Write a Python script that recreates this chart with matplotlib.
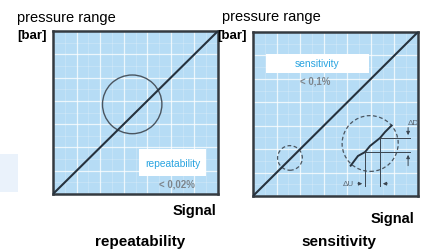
import matplotlib.pyplot as plt
import matplotlib.patches as mpatches
import numpy as np

#
# Diagram data (panel units, 0..1)
#

signal = [0.0, 1.0]                     # characteristic line, x
pressure = [0.0, 1.0]                   # characteristic line, y
grid_pos = [1/7, 2/7, 3/7, 4/7, 5/7, 6/7]

rep_circle = (0.48, 0.55, 0.18)         # repeatability loop
sens_small = (0.224, 0.232, 0.075)      # sensitivity, small dashed circle
sens_big = (0.71, 0.32, 0.17)           # sensitivity, zoomed dashed circle

step_x = [0.592, 0.636, 0.679, 0.709, 0.739, 0.770, 0.800, 0.840]
step_y = [0.185, 0.244, 0.268, 0.305, 0.329, 0.354, 0.390, 0.430]

panel_titles = ["repeatability", "sensitivity"]
panel_values = ["< 0,02%", "< 0,1%"]

W, H = 426, 251
bg = "#b6dcf5"
edge = "#343a40"
font = "Liberation Sans"


def fx(px):
    return px / W


def fy(py):
    return 1 - py / H


fig = plt.figure(figsize=(4.26, 2.51), dpi=100, facecolor="white")

# faint box on the left edge
fig.patches.append(mpatches.Rectangle((0, fy(193)), fx(18), fy(155) - fy(193),
                                      transform=fig.transFigure, facecolor="#eaf2fb",
                                      edgecolor="none"))


def panel(left, top, right, bottom):
    ax = fig.add_axes([fx(left), fy(bottom), fx(right - left), fy(top) - fy(bottom)])
    ax.set_xlim(0, 1)
    ax.set_ylim(0, 1)
    ax.set_facecolor(bg)
    ax.set_xticks([])
    ax.set_yticks([])
    for g in grid_pos:
        ax.axvline(g, color="white", lw=0.9, alpha=0.75, zorder=1)
        ax.axhline(g, color="white", lw=0.9, alpha=0.75, zorder=1)
    for g in grid_pos + [1.0]:
        ax.axvline(g - 1/14, color="white", lw=0.4, alpha=0.35, zorder=1)
        ax.axhline(g - 1/14, color="white", lw=0.4, alpha=0.35, zorder=1)
    for s in ax.spines.values():
        s.set_color(edge)
        s.set_linewidth(1.8)
    ax.plot(signal, pressure, color="#26323e", lw=1.5, zorder=3)
    return ax


#
# Left panel - repeatability
#

ax1 = panel(53, 32, 218, 195)
cx, cy, r = rep_circle
ax1.add_patch(mpatches.Circle((cx, cy), r, fill=False, edgecolor="#4a5560", lw=1.0, zorder=2))
ax1.add_patch(mpatches.Rectangle((0.52, 0.11), 0.41, 0.166, facecolor="white", edgecolor="none", zorder=4))
ax1.text(0.725, 0.19, panel_titles[0], color="#2aa4e0", fontsize=7.4, family=font,
         ha="center", va="center", zorder=5)
ax1.text(0.75, 0.065, panel_values[0], color="#7d858c", fontsize=7, family=font,
         fontweight="bold", ha="center", va="center", zorder=5)

#
# Right panel - sensitivity
#

ax2 = panel(253, 33, 418, 197)
for c in (sens_small, sens_big):
    ax2.add_patch(mpatches.Circle((c[0], c[1]), c[2], fill=False, edgecolor="#4a5560",
                                  lw=0.9, ls=(0, (3, 2)), zorder=2))
ax2.plot(step_x, step_y, color="#26323e", lw=1.4, zorder=3)
ax2.plot([step_x[5], 0.95], [step_y[5], step_y[5]], color="#3a4550", lw=0.7, zorder=3)
ax2.plot([step_x[2], 0.95], [step_y[2], step_y[2]], color="#3a4550", lw=0.7, zorder=3)
ax2.plot([step_x[5], step_x[5]], [step_y[5], 0.06], color="#3a4550", lw=0.7, zorder=3)
ax2.plot([step_x[2], step_x[2]], [step_y[2], 0.06], color="#3a4550", lw=0.7, zorder=3)
ax2.annotate("", xy=(0.94, step_y[5]), xytext=(0.94, step_y[5] + 0.08),
             arrowprops=dict(arrowstyle="-|>", color="#3a4550", lw=0.7, mutation_scale=5))
ax2.annotate("", xy=(0.94, step_y[2]), xytext=(0.94, step_y[2] - 0.1),
             arrowprops=dict(arrowstyle="-|>", color="#3a4550", lw=0.7, mutation_scale=5))
ax2.annotate("", xy=(step_x[2], 0.075), xytext=(step_x[2] - 0.06, 0.075),
             arrowprops=dict(arrowstyle="-|>", color="#3a4550", lw=0.7, mutation_scale=5))
ax2.annotate("", xy=(step_x[5], 0.075), xytext=(step_x[5] + 0.06, 0.075),
             arrowprops=dict(arrowstyle="-|>", color="#3a4550", lw=0.7, mutation_scale=5))
ax2.text(0.97, 0.45, "ΔD", color="#5a6570", fontsize=5.8, family=font, ha="center", va="center", zorder=5)
ax2.text(0.58, 0.075, "ΔU", color="#5a6570", fontsize=5.8, family=font, ha="center", va="center", zorder=5)
ax2.add_patch(mpatches.Rectangle((0.08, 0.75), 0.62, 0.116, facecolor="white", edgecolor="none", zorder=4))
ax2.text(0.39, 0.81, panel_titles[1], color="#2aa4e0", fontsize=7.4, family=font,
         ha="center", va="center", zorder=5)
ax2.text(0.375, 0.705, panel_values[1], color="#7d858c", fontsize=7, family=font,
         fontweight="bold", ha="center", va="center", zorder=5)

#
# Labels
#

fig.text(fx(17), fy(18), "pressure range", fontsize=10.5, family=font, ha="left", va="center")
fig.text(fx(17), fy(36), "[bar]", fontsize=9.5, family=font, fontweight="bold", ha="left", va="center")
fig.text(fx(222), fy(17), "pressure range", fontsize=10.5, family=font, ha="left", va="center")
fig.text(fx(217), fy(36), "[bar]", fontsize=9.5, family=font, fontweight="bold", ha="left", va="center")
fig.text(fx(216), fy(211), "Signal", fontsize=10.5, family=font, fontweight="bold", ha="right", va="center")
fig.text(fx(414), fy(219), "Signal", fontsize=10.5, family=font, fontweight="bold", ha="right", va="center")
fig.text(fx(140), fy(242), panel_titles[0], fontsize=11, family=font, fontweight="bold", ha="center", va="center")
fig.text(fx(339), fy(242), panel_titles[1], fontsize=11, family=font, fontweight="bold", ha="center", va="center")

plt.savefig("out.png", dpi=100)
